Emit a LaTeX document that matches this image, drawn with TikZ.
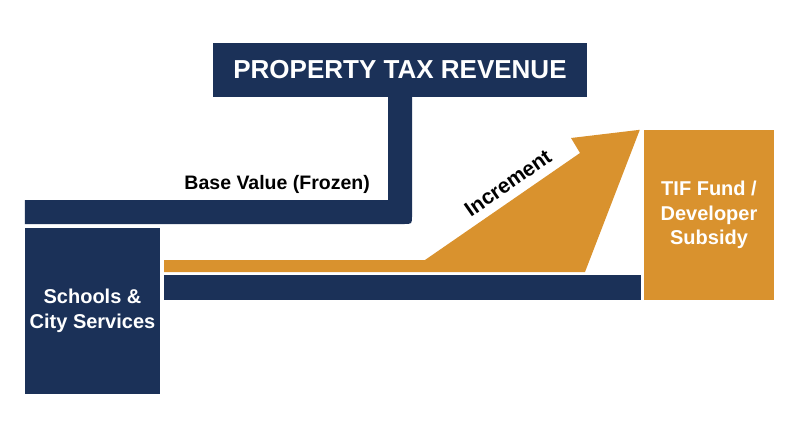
\documentclass[tikz,border=0pt]{standalone}
\usepackage{fontspec}
\setmainfont{Liberation Sans}
\definecolor{navy}{RGB}{27,49,88}
\definecolor{gold}{RGB}{217,146,46}

\tikzstyle{navybox} = [fill=navy, text=white, align=center, inner sep=0pt,
    font=\bfseries\fontsize{20}{25}\selectfont]
\tikzstyle{goldbox} = [fill=gold, text=white, align=center, inner sep=0pt,
    font=\bfseries\fontsize{20}{24.5}\selectfont]
\tikzstyle{flowlabel} = [text=black, inner sep=0pt,
    font=\bfseries\fontsize{19.5}{23}\selectfont]

\begin{document}
\begin{tikzpicture}[x=1pt,y=-1pt]
\useasboundingbox (0,0) rectangle (800,447);
\node [navybox, minimum width=374pt, minimum height=54pt,
    font=\bfseries\fontsize{26}{30}\selectfont] (title) at (400,70) {PROPERTY TAX REVENUE};
\node [navybox, minimum width=135pt, minimum height=166pt] (schools) at (92.5,311) {Schools \&\\City Services};
\node [goldbox, minimum width=130pt, minimum height=170pt] (tif) at (709,215) {TIF Fund /\\Developer\\Subsidy};

% frozen base goes back to schools
\fill[navy] ([xshift=-12pt]title.south) -- ([xshift=12pt]title.south) -- (412,216)
    .. controls (412,224) .. (404,224) -- (schools.north west |- 0,224)
    -- (schools.north west |- 0,200) -- (388,200) -- cycle;
\node [flowlabel, anchor=east] (base) at (370,184) {Base Value (Frozen)};

% increment diverted to the fund
\fill[gold] (164,260) -- (425,260) -- (580,153) -- (571,138)
    -- ([xshift=-4pt]tif.north west) -- (585,272) -- (164,272) -- cycle;
\node [flowlabel, rotate=35, font=\bfseries\fontsize{21}{25}\selectfont] (incr) at (508,183) {Increment};

\fill[navy] (164,275) rectangle ([xshift=-3pt]tif.west |- 0,300);
\end{tikzpicture}
\end{document}
